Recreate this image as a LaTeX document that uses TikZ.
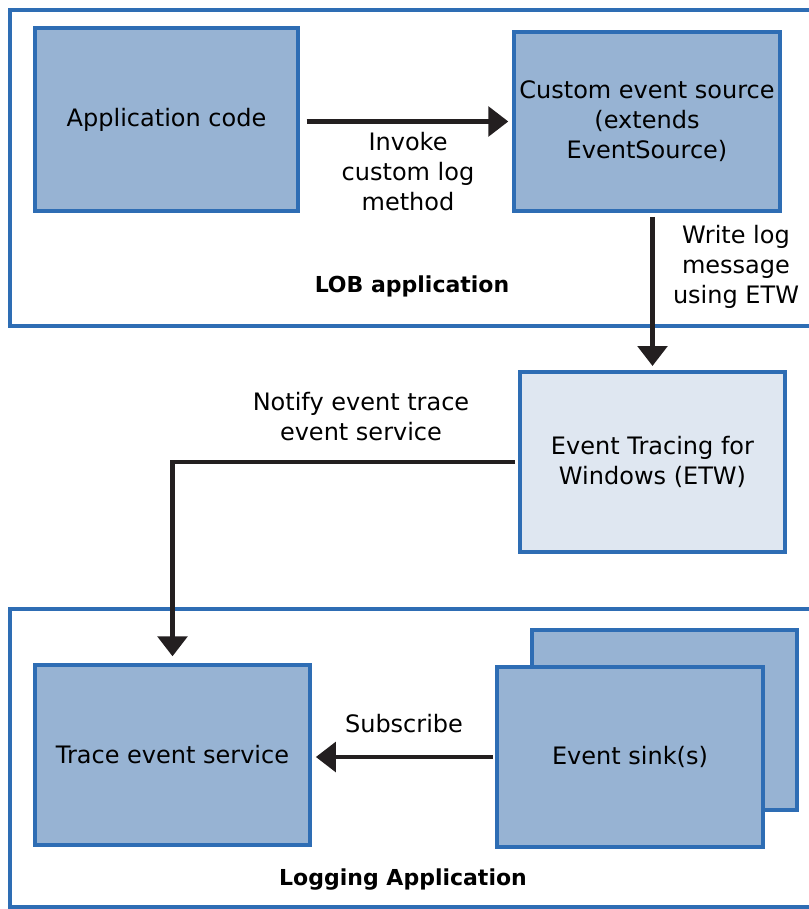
\documentclass[tikz,border=0pt]{standalone}
\usepackage{fontspec}
\setmainfont{DejaVu Sans}
\usetikzlibrary{arrows.meta}
\definecolor{boxfill}{HTML}{97B3D3}
\definecolor{boxline}{HTML}{2E6DB4}
\definecolor{etwfill}{HTML}{DFE7F1}
\definecolor{ink}{HTML}{231F20}
\tikzset{
  box/.style={draw=boxline, fill=boxfill, line width=3pt, align=center, inner sep=0pt},
  lightbox/.style={box, fill=etwfill},
  frame/.style={draw=boxline, line width=3pt},
  flow/.style={draw=ink, line width=3.6pt, -{Triangle[width=22pt,length=15pt]}},
  lbl/.style={align=center, text=black},
  title/.style={lbl, font=\fontsize{16.5}{22.5}\selectfont\bfseries}
}
\begin{document}
\begin{tikzpicture}[x=0.75pt, y=-0.75pt, font=\fontsize{18}{22.5}\selectfont]
    \useasboundingbox (0,0) rectangle (808,909);
    \draw[frame] (812,10) -- (10,10) -- (10,326) -- (812,326);
    \draw[frame] (812,609) -- (10,609) -- (10,907) -- (812,907);
    \node[box, minimum width=197pt, minimum height=137pt] (app) at (166.5,119.5) {Application code};
    \node[box, minimum width=199pt, minimum height=134pt] (src) at (647,121.5) {Custom event source\\(extends\\EventSource)};
    \node[lightbox, minimum width=199pt, minimum height=135pt] (etw) at (652.5,462) {Event Tracing for\\Windows (ETW)};
    \node[box, minimum width=206pt, minimum height=135pt] (trace) at (172.5,755) {Trace event service};
    \node[box, minimum width=199pt, minimum height=135pt] (sinkback) at (664.5,720) {};
    \node[box, minimum width=199pt, minimum height=135pt] (sink) at (630,757) {Event sink(s)};
    \node[title] (lob) at (412,286) {LOB application};
    \node[title] (logapp) at (403,880) {Logging Application};
    \node[lbl] (invoke) at (408,172) {Invoke\\custom log\\method};
    \node[lbl] (write) at (736,267) {Write log\\message\\using ETW};
    \node[lbl] (notify) at (361,417) {Notify event trace\\event service};
    \node[lbl] (subscribe) at (404,724) {Subscribe};
    \draw[flow, shorten <=5pt, shorten >=3pt] (app.east |- src.west) -- (src.west);
    \draw[flow, shorten <=3pt, shorten >=3pt] (src.south -| etw.north) -- (etw.north);
    \draw[flow, shorten <=2pt, shorten >=5pt] (etw.west) -| (trace.north);
    \draw[flow, shorten <=2pt, shorten >=3pt] (sink.west) -- (sink.west -| trace.east);
\end{tikzpicture}
\end{document}
